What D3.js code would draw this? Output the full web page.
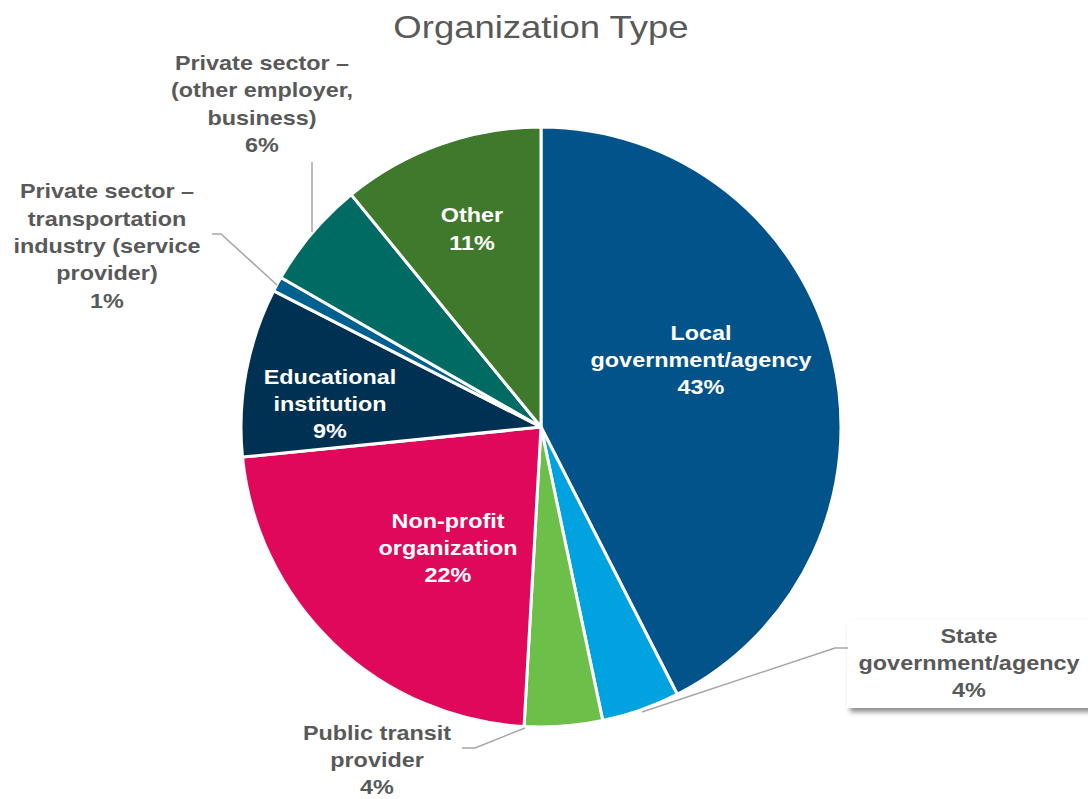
<!DOCTYPE html>
<html><head><meta charset="utf-8">
<script src="https://cdn.jsdelivr.net/npm/d3@7"></script>
<style>body{margin:0;background:#fff;}svg{display:block;font-family:"Liberation Sans",Arial,sans-serif;}</style>
</head><body>
<svg id="chart" width="1088" height="799"></svg>
<script>
const categories = ["Local government/agency","State government/agency","Public transit provider","Non-profit organization","Educational institution","Private sector – transportation industry (service provider)","Private sector – (other employer, business)","Other"];
const values = [42.5, 4.2, 4.2, 22.5, 9.1, 0.8, 5.8, 10.9];
const pctLabels = ["43%","4%","4%","22%","9%","1%","6%","11%"];
const colors = ["#02538A","#00A3E0","#6CC04A","#E0085A","#003152","#00608F","#006B63","#3F7A2C"];
const labelLines = [
  ["Local","government/agency"],
  ["State","government/agency"],
  ["Public transit","provider"],
  ["Non-profit","organization"],
  ["Educational","institution"],
  ["Private sector –","transportation","industry (service","provider)"],
  ["Private sector –","(other employer,","business)"],
  ["Other"]
];

const svg = d3.select("#chart");
const cx = 541, cy = 427, r = 300;
const sx = 1.17;

svg.append("g").attr("transform","translate(541,38) scale(1.14,1)")
  .append("text").attr("x",0).attr("y",0).attr("text-anchor","middle")
  .attr("font-size",32).attr("fill","#595959").text("Organization Type");

const pie = d3.pie().sort(null).value(d=>d)(values);
const arc = d3.arc().innerRadius(0).outerRadius(r);
const g = svg.append("g").attr("transform",`translate(${cx},${cy})`);
g.selectAll("path").data(pie).join("path")
  .attr("d",arc).attr("fill",(d,i)=>colors[i])
  .attr("stroke","#fff").attr("stroke-width",3).attr("stroke-linejoin","round");

const lh = 27.5;
function label(parent, i, x, y, fill){
  const lines=labelLines[i].concat([pctLabels[i]]);
  const t=parent.append("g").attr("transform",`translate(${x},${y}) scale(${sx},1)`)
    .append("text").attr("text-anchor","middle").attr("fill",fill)
    .attr("font-weight","bold").attr("font-size",20);
  lines.forEach((l,j)=>t.append("tspan").attr("x",0).attr("y",(j-(lines.length-1)/2)*lh+7).text(l));
}

// inside labels (relative to centre)
const insidePos = {0:[160,-67],3:[-93,121],4:[-211,-23],7:[-69,-198]};
Object.keys(insidePos).forEach(k=>label(g,+k,insidePos[k][0],insidePos[k][1],"#fff"));

// State label box with shadow
const defs = svg.append("defs");
const f = defs.append("filter").attr("id","sh").attr("x","-10%").attr("y","-10%").attr("width","130%").attr("height","140%");
f.append("feDropShadow").attr("dx",3).attr("dy",4).attr("stdDeviation",2.5).attr("flood-color","#000").attr("flood-opacity",0.45);
svg.append("rect").attr("x",847).attr("y",620).attr("width",260).attr("height",88)
  .attr("fill","#fff").attr("filter","url(#sh)");

// leader lines
const leaders = {
  1: [[642,712],[835,648],[848,648]],
  2: [[525,728],[475,748],[462,748]],
  5: [[277,285],[221,234],[212,234]],
  6: [[312,232],[312,162]]
};
Object.values(leaders).forEach(pts=>{
  svg.append("path").attr("d",d3.line()(pts)).attr("fill","none")
    .attr("stroke","#A6A6A6").attr("stroke-width",1.5);
});

const outsidePos = {1:[969,663],2:[377,760],5:[107,246],6:[262,104]};
Object.keys(outsidePos).forEach(k=>label(svg,+k,outsidePos[k][0],outsidePos[k][1],"#595959"));
</script>
</body></html>
